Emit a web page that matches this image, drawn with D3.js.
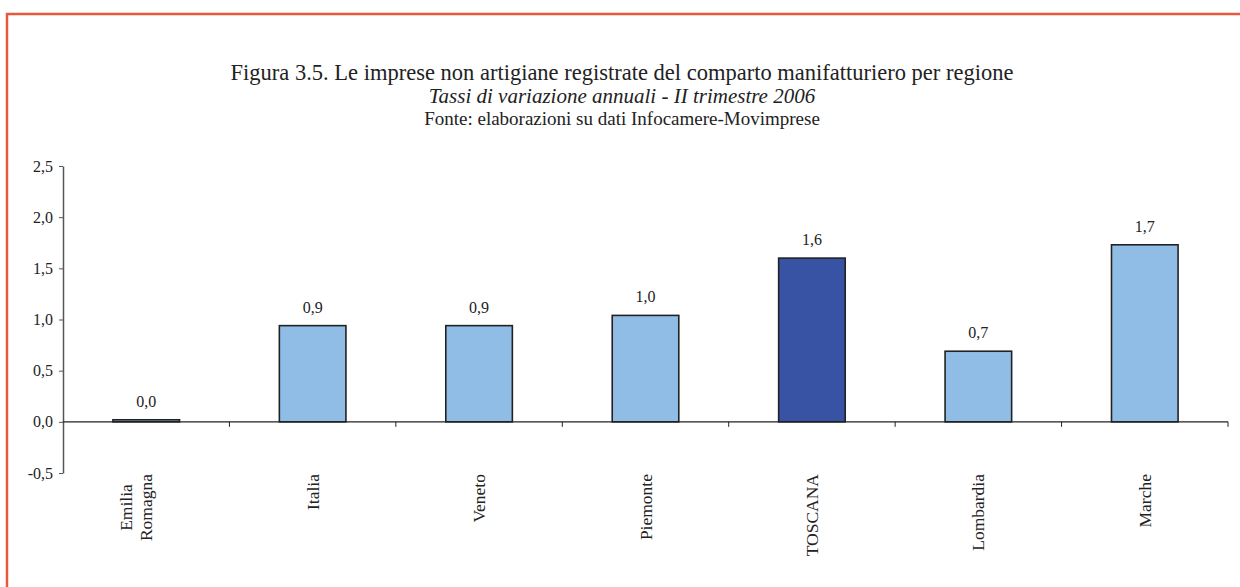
<!DOCTYPE html>
<html>
<head>
<meta charset="utf-8">
<script src="https://cdn.jsdelivr.net/npm/d3@7"></script>
<style>
  body { margin: 0; background: #fff; }
  svg { display: block; font-family: "Liberation Serif", "Times New Roman", serif; }
</style>
</head>
<body>
<svg id="chart" width="1240" height="587"></svg>
<script>
// data
var categories = ["Emilia Romagna", "Italia", "Veneto", "Piemonte", "TOSCANA", "Lombardia", "Marche"];
var values = [0.02, 0.94, 0.94, 1.04, 1.6, 0.69, 1.73];
var highlight = ["TOSCANA"];
var yTicks = [-0.5, 0, 0.5, 1, 1.5, 2, 2.5];
var titleLines = [
    "Figura 3.5. Le imprese non artigiane registrate del comparto manifatturiero per regione",
    "Tassi di variazione annuali - II trimestre 2006",
    "Fonte: elaborazioni su dati Infocamere-Movimprese"
];

var svg = d3.select("#chart");
var plotLeft = 63, plotRight = 1228, plotTop = 166, plotBottom = 473;

//red frame round the figure
svg.append("path")
    .attr("d", "M7 590 L7 14 L1245 14")
    .attr("fill", "none")
    .attr("stroke", "#e8573e")
    .attr("stroke-width", 2.5);

//titles
var titleY = [80, 103, 125];
var titleSize = [22.5, 21, 19];
titleLines.forEach(function(t, i){
    svg.append("text")
        .text(t)
        .attr("x", 622)
        .attr("y", titleY[i])
        .attr("text-anchor", "middle")
        .attr("font-size", titleSize[i])
        .attr("font-style", i == 1 ? "italic" : "normal")
        .attr("fill", "#222");
});

var x = d3.scaleBand()
    .domain(categories)
    .range([plotLeft, plotRight])
    .paddingInner(0.6)
    .paddingOuter(0.3);

var y = d3.scaleLinear()
    .domain([-0.5, 2.5])
    .range([plotBottom, plotTop]);

//italian style numbers: comma decimal, plain hyphen for minus
var fmt = function(v){ return d3.format(".1f")(v).replace(".", ",").replace("\u2212", "-"); };

//y axis
var yAxis = svg.append("g")
    .attr("transform", "translate(" + plotLeft + ",0)")
    .call(d3.axisLeft(y).tickValues(yTicks).tickFormat(fmt).tickSize(4).tickSizeOuter(0));
yAxis.attr("font-family", null);
yAxis.select(".domain").attr("stroke", "#555").attr("stroke-width", 1.5);
yAxis.selectAll(".tick line").attr("stroke", "#555");
yAxis.selectAll(".tick text")
    .attr("font-size", 16)
    .attr("fill", "#222")
    .attr("x", -10);

//bars
svg.selectAll("rect.bar")
    .data(categories)
    .enter().append("rect")
    .classed("bar", true)
    .attr("x", function(d){ return x(d); })
    .attr("width", x.bandwidth())
    .attr("y", function(d, i){ return y(Math.max(0, values[i])); })
    .attr("height", function(d, i){ return Math.abs(y(values[i]) - y(0)); })
    .attr("fill", function(d){ return highlight.indexOf(d) >= 0 ? "#3852a4" : "#8fbde6"; })
    .attr("stroke", "#222")
    .attr("stroke-width", 1.6);

//value labels
svg.selectAll("text.val")
    .data(categories)
    .enter().append("text")
    .classed("val", true)
    .text(function(d, i){ return fmt(values[i]); })
    .attr("x", function(d){ return x(d) + x.bandwidth()/2; })
    .attr("y", function(d, i){ return y(values[i]) - 13; })
    .attr("text-anchor", "middle")
    .attr("font-size", 16)
    .attr("fill", "#222");

//x axis at zero, with ticks between categories
svg.append("line")
    .attr("x1", plotLeft).attr("x2", plotRight)
    .attr("y1", y(0)).attr("y2", y(0))
    .attr("stroke", "#222")
    .attr("stroke-width", 1.3);
for(var i = 1; i <= categories.length; i++){
    var tx = plotLeft + i*x.step();
    svg.append("line")
        .attr("x1", tx).attr("x2", tx)
        .attr("y1", y(0)).attr("y2", y(0) + 5)
        .attr("stroke", "#222");
}

//category labels, rotated
categories.forEach(function(c){
    var words = c.split(" ");
    var n = words.length;
    var cx = x(c) + x.bandwidth()/2;
    var g = svg.append("g")
        .attr("transform", "translate(" + cx + ",474) rotate(-90)");
    var texts = [];
    words.forEach(function(w, k){
        texts.push(g.append("text")
            .text(w)
            .attr("y", 6 - (n - 1 - k)*20)
            .attr("font-size", 17.5)
            .attr("fill", "#222"));
    });
    var maxLen = d3.max(texts, function(t){ return t.node().getComputedTextLength(); });
    texts.forEach(function(t){
        t.attr("text-anchor", "middle").attr("x", -maxLen/2);
    });
});
</script>
</body>
</html>
